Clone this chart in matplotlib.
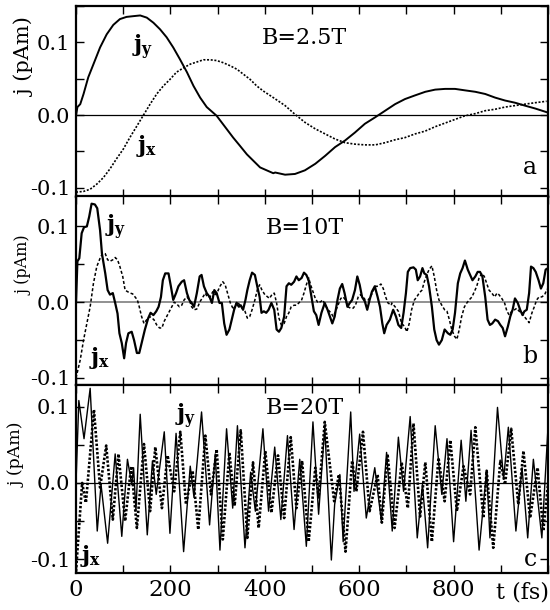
import matplotlib
matplotlib.use("Agg")
import matplotlib.pyplot as plt
from matplotlib.ticker import MultipleLocator, FuncFormatter

plt.rcParams['font.family'] = ['DejaVu Serif']
plt.rcParams['mathtext.fontset'] = 'dejavuserif'
plt.rcParams['axes.unicode_minus'] = False

# ---------------- Panel a : B = 2.5 T ----------------
t_a_y = [0, 3, 9, 16, 26, 37, 51, 65, 79, 93,
         107, 121, 136, 150, 164, 178, 192, 206, 220, 235,
         249, 263, 277, 298, 319, 333, 347, 362, 376, 390,
         404, 418,
         422, 443, 464, 485, 507, 528, 549, 570, 591, 612,
         634, 655, 676, 697, 718, 740, 761, 782, 803, 824,
         846, 867, 888, 909, 930, 951, 973, 997]
j_a_y = [-0.001, 0.011, 0.015, 0.029, 0.052, 0.070, 0.093, 0.111, 0.124, 0.132,
         0.135, 0.136, 0.137, 0.134, 0.127, 0.118, 0.107, 0.093, 0.077, 0.059,
         0.040, 0.024, 0.011, -0.001, -0.019, -0.031, -0.042, -0.054, -0.063, -0.072,
         -0.076, -0.080,
         -0.079, -0.082, -0.081, -0.076, -0.067, -0.056, -0.044, -0.035, -0.024, -0.012,
         -0.003, 0.006, 0.015, 0.022, 0.027, 0.032, 0.035, 0.036, 0.036, 0.034,
         0.032, 0.029, 0.024, 0.020, 0.017, 0.013, 0.009, 0.004]
t_a_x = [0, 16, 30, 44, 58, 72, 86, 100, 114, 129,
         143, 157, 171, 185, 199, 213, 228, 242, 256, 270,
         284, 298, 312, 326, 341, 355, 369, 383, 397, 418,
         443, 464, 485, 507, 528, 549, 570, 591, 612, 634,
         655, 676, 697, 718, 740, 761, 782, 803, 824, 846,
         867, 888, 909, 930, 951, 973, 997]
j_a_x = [-0.106, -0.105, -0.102, -0.095, -0.086, -0.074, -0.060, -0.047, -0.031, -0.015,
         0.000, 0.015, 0.029, 0.040, 0.049, 0.059, 0.065, 0.070, 0.073, 0.076,
         0.076, 0.075, 0.072, 0.068, 0.063, 0.056, 0.049, 0.040, 0.033, 0.024,
         0.013, 0.001, -0.010, -0.019, -0.026, -0.033, -0.038, -0.040, -0.041, -0.041,
         -0.038, -0.034, -0.031, -0.026, -0.022, -0.016, -0.011, -0.006, -0.001, 0.002,
         0.006, 0.008, 0.011, 0.013, 0.015, 0.017, 0.019]

# ---------------- Panel b : B = 10 T ----------------
t_b_y = [0, 3, 7, 12, 17, 23, 28, 33, 40, 45,
         51, 55, 62, 67, 72, 78, 83, 88, 92, 97,
         102, 106, 111, 118, 123, 129, 134, 139, 146, 153,
         158, 164, 170, 175, 180, 184, 189, 196, 201, 206,
         212, 217, 224, 229, 235, 240, 245, 250, 256, 262,
         266, 271, 277, 283, 288, 293, 298, 304, 309, 314,
         319, 325,
         335, 340, 345, 349, 354, 359, 363, 368, 373, 379,
         384, 389, 393, 398, 403, 408, 414, 420, 425, 430,
         435, 441, 446, 451, 456, 462, 467, 472, 478, 483,
         488, 493, 499, 504, 509, 514, 520, 527, 533, 538,
         543, 548, 554, 559, 564, 569, 575, 580, 585, 591,
         596, 601, 606, 612, 617, 622, 627, 633, 639, 644,
         649, 653, 658, 665, 672,
         678, 683, 689, 694, 699, 703, 708, 715, 720, 724,
         729, 734, 738, 743, 748, 754, 759, 764, 769, 775,
         781, 788, 793, 798, 803, 809, 814, 819, 824, 830,
         835, 840, 846, 851, 856, 861, 867, 872, 877, 882,
         888, 894, 899, 904, 909, 915, 920, 925, 930, 936,
         941, 946, 950, 955, 960, 964, 969, 974, 980, 985,
         990, 995, 1000]
j_b_y = [0.000, 0.054, 0.058, 0.091, 0.099, 0.100, 0.113, 0.130, 0.129, 0.124,
         0.095, 0.064, 0.038, 0.016, 0.010, 0.012, -0.001, -0.015, -0.041, -0.054,
         -0.074, -0.054, -0.041, -0.039, -0.050, -0.067, -0.067, -0.054, -0.036, -0.021,
         -0.014, -0.017, -0.012, -0.006, 0.007, 0.029, 0.038, 0.038, 0.021, 0.003,
         0.012, 0.021, 0.027, 0.029, 0.012, 0.003, -0.001, -0.006, 0.012, 0.034,
         0.036, 0.021, 0.012, 0.007, -0.001, 0.016, 0.012, -0.001, -0.001, -0.028,
         -0.043, -0.036,
         -0.010, -0.001, -0.006, -0.004, -0.010, 0.003, 0.016, 0.029, 0.039, 0.036,
         0.021, 0.007, -0.014, -0.012, -0.014, -0.010, -0.001, -0.010, -0.036, -0.039,
         -0.034, -0.019, 0.021, 0.025, 0.023, 0.027, 0.034, 0.029, 0.032, 0.039,
         0.036, 0.029, 0.007, -0.012, -0.017, -0.030, -0.014, -0.001, -0.010, -0.019,
         -0.028, -0.019, 0.003, 0.018, 0.024, 0.012, -0.006, -0.001, 0.003, 0.016,
         0.034, 0.023, 0.007, 0.001, -0.010, 0.003, 0.014, 0.021, 0.007, -0.006,
         -0.028, -0.041, -0.030, -0.023, -0.010,
         -0.019, -0.030, -0.034, -0.014, 0.012, 0.040, 0.045, 0.046, 0.043, 0.029,
         0.034, 0.045, 0.038, 0.036, 0.021, -0.006, -0.036, -0.050, -0.056, -0.050,
         -0.036, -0.041, -0.043, -0.036, -0.014, 0.025, 0.038, 0.045, 0.055, 0.043,
         0.036, 0.029, 0.034, 0.040, 0.040, 0.034, 0.007, -0.023, -0.030, -0.028,
         -0.023, -0.025, -0.030, -0.034, -0.045, -0.032, -0.019, -0.010, 0.005, -0.001,
         -0.010, -0.017, -0.012, -0.010, 0.012, 0.047, 0.045, 0.040, 0.029, 0.018,
         0.025, 0.043, 0.045]
t_b_x = [0, 9, 16, 23, 30, 37, 44, 51, 56, 62,
         67, 72, 78, 83, 88, 93, 99, 104, 109, 115,
         120, 125, 130, 134, 139, 144, 150, 156, 161, 165,
         171, 177, 182, 187, 192, 198, 203, 208, 213, 219,
         224, 229, 235, 240, 245, 250, 256, 263, 269, 274,
         278, 284, 290, 295, 300, 305, 311, 316, 321, 327,
         334,
         336, 342, 347, 352, 358, 363, 368, 373, 379, 384,
         389, 394, 400, 406, 410, 415, 420, 425, 430, 435,
         441, 446, 451, 456, 462, 467, 472, 478, 483, 488,
         493, 497, 502, 507, 513, 519, 523, 528, 534, 540,
         545, 550, 555, 561, 566, 571, 576, 582, 587, 592,
         598, 603, 608, 613, 619, 624, 629, 634, 640, 646,
         651, 656, 661, 668,
         669, 676, 683, 690, 696, 701, 706, 711, 717, 722,
         727, 733, 738, 743, 748, 754, 759, 764, 769, 775,
         781, 786, 791, 796, 802, 807, 812, 817, 823, 828,
         833, 839, 844, 849, 854, 860, 865, 870, 875, 881,
         887, 892, 896, 902, 908, 913, 918, 923, 929, 934,
         939, 945, 950, 955, 960, 966, 971, 976, 981, 987,
         993, 997, 1000]
j_b_x = [-0.100, -0.076, -0.050, -0.028, -0.006, 0.025, 0.047, 0.058, 0.064, 0.064,
         0.056, 0.054, 0.056, 0.059, 0.056, 0.047, 0.034, 0.016, 0.014, 0.012,
         0.011, 0.007, 0.003, -0.006, -0.019, -0.028, -0.023, -0.019, -0.021, -0.023,
         -0.030, -0.034, -0.034, -0.025, -0.019, -0.012, -0.006, 0.000, -0.002, -0.006,
         -0.004, 0.003, 0.007, 0.003, -0.006, -0.010, -0.009, 0.001, 0.007, 0.012,
         0.007, 0.007, 0.014, 0.010, 0.014, 0.021, 0.027, 0.023, 0.012, -0.001,
         -0.010,
         -0.006, 0.001, -0.004, -0.008, -0.012, -0.021, -0.019, -0.010, 0.003, 0.016,
         0.023, 0.016, 0.010, 0.007, 0.005, 0.010, 0.012, -0.001, -0.021, -0.030,
         -0.028, -0.019, -0.014, -0.006, -0.004, -0.004, -0.001, 0.003, 0.012, 0.023,
         0.032, 0.023, 0.014, 0.005, -0.001, 0.001, 0.003, -0.004, -0.010, -0.014,
         -0.019, -0.012, -0.004, 0.005, 0.007, 0.003, -0.006, -0.008, -0.008, -0.004,
         0.007, 0.010, 0.007, 0.003, 0.003, 0.007, 0.014, 0.021, 0.021, 0.024,
         0.018, 0.007, -0.001, -0.004,
         -0.001, -0.006, -0.012, -0.028, -0.032, -0.039, -0.028, -0.010, 0.003, 0.007,
         0.012, 0.016, 0.027, 0.036, 0.043, 0.048, 0.034, 0.016, 0.003, -0.004,
         -0.010, -0.012, -0.023, -0.036, -0.045, -0.049, -0.036, -0.019, -0.006, -0.001,
         0.003, 0.007, 0.014, 0.021, 0.032, 0.038, 0.034, 0.025, 0.016, 0.012,
         0.007, 0.012, 0.010, 0.005, -0.001, -0.012, -0.017, -0.012, -0.010, -0.008,
         -0.012, -0.014, -0.019, -0.023, -0.027, -0.014, -0.006, 0.003, 0.007, 0.007,
         0.010, 0.016, 0.018]

# ---------------- Panel c : B = 20 T ----------------
t_c_y = [0, 6, 17, 30, 45, 53, 67, 83, 97, 109,
         118, 122, 127, 136, 151, 162, 170, 187, 199, 212,
         228, 242, 250, 266, 283, 295, 305, 319, 332,
         342, 358, 370, 380, 396, 408, 421, 434, 448, 462,
         474, 488, 502, 514, 527, 541, 548, 559, 566, 582,
         589, 601, 615, 633, 647, 658, 670,
         683, 694, 708, 723, 734, 745, 761, 775, 786, 800,
         816, 826, 837, 854, 870, 877, 893, 906, 916, 932,
         945, 957, 969, 987, 1000]
j_c_y = [0.000, 0.108, 0.058, 0.124, -0.063, -0.002, -0.079, 0.038, -0.070, 0.031,
         -0.002, 0.020, -0.037, 0.090, -0.068, 0.029, -0.015, 0.067, -0.066, 0.065,
         -0.090, 0.022, -0.019, 0.093, -0.055, 0.038, -0.088, 0.071, -0.033,
         0.075, -0.085, 0.014, -0.037, 0.071, -0.037, 0.047, -0.048, 0.062, -0.061,
         0.031, -0.083, 0.080, -0.041, 0.073, -0.101, -0.028, 0.011, -0.077, 0.093,
         -0.011, 0.064, -0.046, 0.020, -0.050, 0.040, -0.063,
         0.060, -0.011, 0.087, -0.072, -0.002, -0.085, 0.075, -0.015, 0.058, -0.077,
         0.056, -0.024, 0.069, -0.088, 0.016, -0.072, 0.099, 0.005, 0.073, -0.063,
         0.020, -0.072, 0.031, -0.072, 0.073]
t_c_x = [0, 13, 21, 38, 51, 64, 78, 90, 104, 117,
         129, 144, 157, 168, 182, 194, 208, 221, 233, 247,
         259, 274, 286, 298, 311, 325,
         336, 349, 363, 375, 387, 401, 414, 428, 441, 455,
         467, 479, 493, 507, 514, 527, 547, 557, 571, 585,
         594, 608, 622, 639, 648, 660,
         675, 690, 703, 715, 729, 740, 754, 768, 781, 793,
         807, 821, 835, 846, 863, 870, 884, 899, 909, 922,
         937, 948, 962, 978, 990, 1000]
j_c_x = [-0.116, 0.000, -0.026, 0.096, -0.006, 0.049, -0.048, 0.038, -0.050, 0.022,
         -0.059, 0.051, -0.037, 0.047, -0.033, 0.036, -0.011, 0.067, -0.028, 0.016,
         -0.061, 0.062, -0.015, 0.044, -0.074, 0.040,
         -0.030, 0.069, -0.072, 0.027, -0.059, 0.042, -0.039, 0.036, -0.046, 0.060,
         -0.033, 0.029, -0.077, 0.020, -0.019, 0.080, -0.024, 0.011, -0.090, 0.029,
         -0.011, 0.067, -0.037, 0.011, -0.052, 0.038,
         -0.059, 0.027, -0.033, 0.078, -0.044, 0.027, -0.077, 0.033, -0.024, 0.056,
         -0.037, 0.022, -0.015, 0.073, -0.046, 0.016, -0.085, 0.029, -0.002, 0.071,
         -0.028, 0.042, -0.046, 0.020, -0.063, -0.002]

field_labels = ["B=2.5T", "B=10T", "B=20T"]
panel_letters = ["a", "b", "c"]
xtick_values = [0, 200, 400, 600, 800]

fig = plt.figure(figsize=(5.5, 6.1), dpi=100)
L, W = 76 / 550, 472 / 550
def box(top, bot):
    return [L, 1 - bot / 610, W, (bot - top) / 610]
axa = fig.add_axes(box(6, 196.5))
axb = fig.add_axes(box(196.5, 384.5))
axc = fig.add_axes(box(384.5, 573))
axes = [axa, axb, axc]

axa.plot(t_a_y, j_a_y, color='black', lw=1.4, solid_joinstyle='round')
axa.plot(t_a_x, j_a_x, color='black', lw=1.2, ls=(0, (1.2, 1.0)))
axb.plot(t_b_y, j_b_y, color='black', lw=1.6, solid_joinstyle='round')
axb.plot(t_b_x, j_b_x, color='black', lw=1.1, ls=(0, (2.0, 1.4)))
axc.plot(t_c_y, j_c_y, color='black', lw=1.0, solid_joinstyle='round')
axc.plot(t_c_x, j_c_x, color='black', lw=1.9, ls=(0, (0.9, 0.7)))

ylims = [(-0.112, 0.150), (-0.1086, 0.1395), (-0.118, 0.129)]
zero_colors = ['black', '#888888', 'black']
zero_lw = [0.9, 1.3, 0.9]
for ax, yl, zc, zw in zip(axes, ylims, zero_colors, zero_lw):
    ax.axhline(0.0, color=zc, lw=zw, zorder=1)
    ax.set_xlim(0, 1000)
    ax.set_ylim(*yl)
    ax.xaxis.set_major_locator(MultipleLocator(100))
    ax.yaxis.set_major_locator(MultipleLocator(0.1))
    ax.yaxis.set_minor_locator(MultipleLocator(0.05))
    ax.yaxis.set_major_formatter(FuncFormatter(lambda v, p: "%.1f" % v))
    ax.tick_params(which='both', direction='in', top=True, right=True,
                   length=6, width=1.0, labelsize=15, pad=4)
    for s in ax.spines.values():
        s.set_linewidth(1.6)

for ax in [axa, axb]:
    ax.tick_params(axis='x', labelbottom=False)
axc.xaxis.set_major_formatter(FuncFormatter(
    lambda v, p: "%d" % v if int(round(v)) in xtick_values else ""))
axc.tick_params(axis='x', labelsize=16.5, pad=4)

# panel annotations
fl_pos = [(0.485, 0.832), (0.485, 0.830), (0.485, 0.875)]
let_pos = [(0.962, 0.150), (0.962, 0.151), (0.962, 0.069)]
jy_pos = [(0.142, 0.785), (0.083, 0.836), (0.233, 0.828)]
jx_pos = [(0.150, 0.265), (0.051, 0.141), (0.032, 0.090)]
for i, ax in enumerate(axes):
    ax.text(*fl_pos[i], field_labels[i], transform=ax.transAxes,
            ha='center', va='center', fontsize=16)
    ax.text(*let_pos[i], panel_letters[i], transform=ax.transAxes,
            ha='center', va='center', fontsize=17)
    ax.text(*jy_pos[i], r'$\mathbf{j}_\mathbf{y}$', transform=ax.transAxes,
            ha='center', va='center', fontsize=16)
    ax.text(*jx_pos[i], r'$\mathbf{j}_\mathbf{x}$', transform=ax.transAxes,
            ha='center', va='center', fontsize=16)

# y labels
ylab_pos = [(25, 57, 15), (24, 265, 11.5), (17, 455, 12.5)]
for x, y, fs in ylab_pos:
    fig.text(x / 550, 1 - y / 610, "j (pAm)", rotation=90,
             ha='center', va='center', fontsize=fs)

fig.text(522 / 550, 1 - 592 / 610, "t (fs)", ha='center', va='center', fontsize=16)

fig.savefig("out.png", dpi=100)
